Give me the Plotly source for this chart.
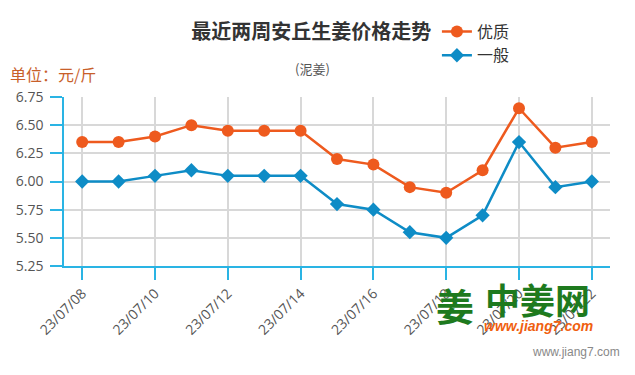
import plotly.graph_objects as go

dates = ["23/07/08", "23/07/09", "23/07/10", "23/07/11", "23/07/12", "23/07/13", "23/07/14",
         "23/07/15", "23/07/16", "23/07/17", "23/07/18", "23/07/19", "23/07/20", "23/07/21", "23/07/22"]
premium = [6.35, 6.35, 6.40, 6.50, 6.45, 6.45, 6.45, 6.20, 6.15, 5.95, 5.90, 6.10, 6.65, 6.30, 6.35]
normal = [6.00, 6.00, 6.05, 6.10, 6.05, 6.05, 6.05, 5.80, 5.75, 5.55, 5.50, 5.70, 6.35, 5.95, 6.00]
y_ticks = [5.25, 5.50, 5.75, 6.00, 6.25, 6.50, 6.75]

ORANGE = "#EE5A1E"
BLUE = "#0E8CC6"
AXIS = "#2AB4E4"
FONT = "Open Sans, Noto Sans CJK SC, sans-serif"

fig = go.Figure()
fig.add_trace(go.Scatter(x=dates, y=premium, name="优质", mode="lines+markers",
                         line=dict(color=ORANGE, width=2.5),
                         marker=dict(symbol="circle", size=12, color=ORANGE)))
fig.add_trace(go.Scatter(x=dates, y=normal, name="一般", mode="lines+markers",
                         line=dict(color=BLUE, width=2.5),
                         marker=dict(symbol="diamond", size=11, color=BLUE)))

fig.update_layout(
    width=635, height=375,
    margin=dict(l=64, r=25, t=97, b=109, autoexpand=False),
    plot_bgcolor="white", paper_bgcolor="white",
    font=dict(family=FONT, color="#555"),
    showlegend=True,
    legend=dict(x=0.683, y=1.488, xanchor="left", yanchor="top",
                font=dict(size=16, color="#333", family="Noto Sans CJK SC"),
                itemwidth=30, tracegroupgap=0, bgcolor="rgba(0,0,0,0)"),
    title=dict(text="<b>最近两周安丘生姜价格走势</b>", x=0.49, xanchor="center", y=0.915, yanchor="middle",
               font=dict(size=20, color="#333", family="Noto Sans CJK SC")),
)

fig.update_xaxes(
    type="category", range=[-0.5, 14.5], automargin=False,
    tickmode="array", tickvals=dates[::2], ticktext=dates[::2],
    tickangle=-45, ticks="outside", ticklen=12, tickcolor=AXIS, tickwidth=1.5,
    showline=True, linecolor=AXIS, linewidth=1.5,
    showgrid=True, gridcolor="#D8D8D8", gridwidth=1.5,
    tickfont=dict(size=14, color="#555"),
)
fig.update_yaxes(
    range=[5.25, 6.75], tickvals=y_ticks, tickformat=".2f", automargin=False,
    ticks="outside", ticklen=12, tickcolor=AXIS, tickwidth=1.5, ticklabelstandoff=4,
    showline=True, linecolor=AXIS, linewidth=1.5,
    showgrid=True, gridcolor="#D8D8D8", gridwidth=1.5,
    tickfont=dict(size=14, color="#555"), zeroline=False,
)

fig.add_annotation(text="(泥姜)", xref="paper", yref="paper", x=0.455, y=(266 - 68) / 169,
                   xanchor="center", yanchor="middle", showarrow=False,
                   font=dict(size=13, color="#555", family="Noto Sans CJK SC"))
fig.add_annotation(text="单位：元/斤", xref="paper", yref="paper", x=-56 / 546, y=(266 - 74) / 169,
                   xanchor="left", yanchor="middle", showarrow=False,
                   font=dict(size=16, color="#C8602A", family="Noto Sans CJK SC"))
# watermark logo
fig.add_annotation(text="<b>姜</b>", xref="paper", yref="paper", x=(455 - 64) / 546, y=(266 - 304) / 169,
                   xanchor="center", yanchor="middle", showarrow=False,
                   font=dict(size=38, color="#1E7A1E", family="Noto Sans CJK SC"))
fig.add_annotation(text="<b>中姜网</b>", xref="paper", yref="paper", x=(537 - 64) / 546, y=(266 - 298) / 169,
                   xanchor="center", yanchor="middle", showarrow=False,
                   font=dict(size=35, color="#1E7A1E", family="Noto Sans CJK SC"))
fig.add_annotation(text="<b><i>www.jiang7.com</i></b>", xref="paper", yref="paper", x=(538 - 64) / 546,
                   y=(266 - 326) / 169, xanchor="center", yanchor="middle", showarrow=False,
                   font=dict(size=14, color="#F06010", family="Arial, Liberation Sans"))
fig.add_annotation(text="www.jiang7.com", xref="paper", yref="paper", x=(576 - 64) / 546,
                   y=(266 - 352) / 169, xanchor="center", yanchor="middle", showarrow=False,
                   font=dict(size=12, color="#888", family="Arial, Liberation Sans"))

fig.write_html("out.html", config={"displayModeBar": False},
               post_script="document.body.style.margin='0';")
